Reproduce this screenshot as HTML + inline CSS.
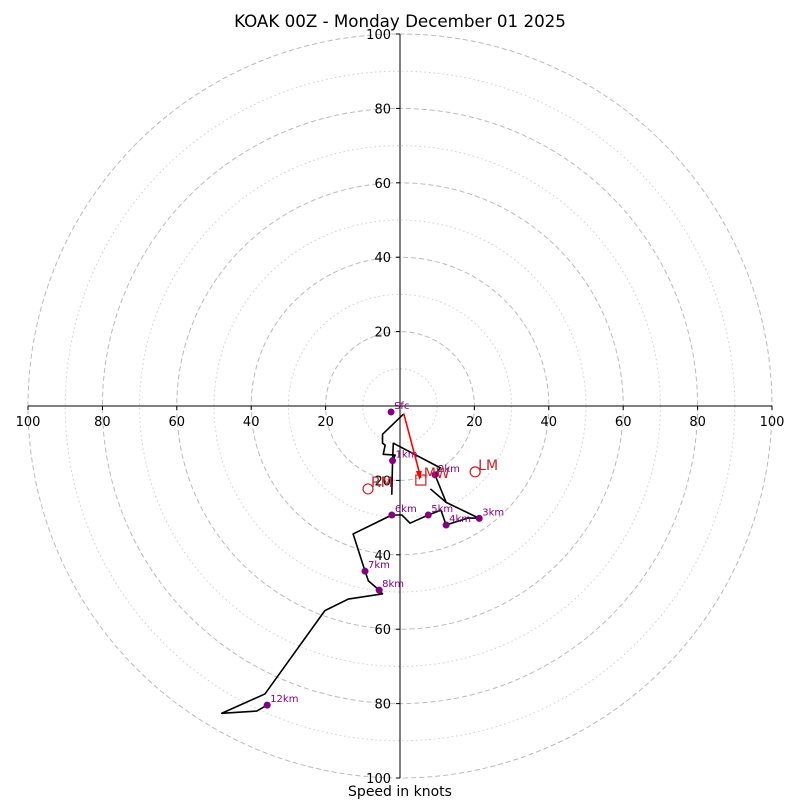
<!DOCTYPE html>
<html><head><meta charset="utf-8"><style>
body{margin:0;background:#fff}
svg text{font-family:"DejaVu Sans","Liberation Sans",sans-serif}
</style></head><body>
<svg id="c" width="800" height="800" xmlns="http://www.w3.org/2000/svg">
<text x="400" y="27" text-anchor="middle" font-size="16.7">KOAK 00Z - Monday December 01 2025</text>
<text x="400" y="796" text-anchor="middle" font-size="14">Speed in knots</text>
</svg>
<script>
const pathU=[0.9,-4.7,-4.7,-4.0,-4.5,-1.3,-2.0,-2.2,-2.0,-1.8,10.8,9.4,12.4,8.3,12.4,21.3,18.3,12.4,11.0,7.6,2.7,0.5,-2.2,-12.6,-9.4,-8.5,-5.6,-4.7,-13.9,-20.2,-36.3,-47.9,-38.5,-35.7];
const pathV=[-2.2,-7.6,-10.0,-10.5,-13.0,-13.2,-14.7,-23.7,-14.7,-10.0,-16.6,-18.5,-25.9,-22.4,-25.9,-30.2,-30.1,-32.0,-28.0,-29.3,-31.5,-29.3,-29.3,-34.4,-44.4,-47.0,-49.5,-50.5,-51.9,-55.0,-77.4,-82.6,-82.0,-80.4];
const hLabels=["Sfc","1km","2km","3km","4km","5km","6km","7km","8km","12km"];
const hU=[-2.4,-2.0,9.4,21.3,12.4,7.6,-2.2,-9.4,-5.6,-35.7];
const hV=[-1.6,-14.7,-18.5,-30.2,-32.0,-29.3,-29.3,-44.4,-49.5,-80.4];
const ticks=[20,40,60,80,100];
const rmU=-8.6,rmV=-22.3,lmU=20.2,lmV=-17.7,mwU=5.6,mwV=-19.9;
const cx=400,cy=406,k=3.72;
const X=u=>cx+u*k, Y=v=>cy-v*k;
const svg=document.getElementById('c');
const NS='http://www.w3.org/2000/svg';
function mk(t,a,p){const e=document.createElementNS(NS,t);for(const n in a)e.setAttribute(n,a[n]);(p||svg).appendChild(e);return e;}
for(let r=10;r<=100;r+=10){
 const c=mk('circle',{cx:cx,cy:cy,r:r*k,fill:'none',stroke:r%20?'#d0d0d0':'#bbb','stroke-width':1,'stroke-dasharray':r%20?'1.5,3':'5,3'});
 
 
}
const ax=mk('line',{x1:X(-100),y1:cy,x2:X(100),y2:cy,stroke:'#000','stroke-width':1});


const ay=mk('line',{x1:cx,y1:Y(100),x2:cx,y2:Y(-100),stroke:'#000','stroke-width':1});


ticks.forEach(t=>{
 [t,-t].forEach(s=>{
  mk('line',{x1:X(s),y1:cy,x2:X(s),y2:cy+4,stroke:'#000'});
  const tx=mk('text',{x:X(s),y:cy+20,'text-anchor':'middle','font-size':13});
  tx.textContent=t;
  
  
  mk('line',{x1:cx-4,y1:Y(s),x2:cx,y2:Y(s),stroke:'#000'});
  const ty=mk('text',{x:cx-9,y:Y(s)+5,'text-anchor':'end','font-size':13});
  ty.textContent=t;
  
  
 });
});
const pts=pathU.map((u,i)=>X(u)+','+Y(pathV[i])).join(' ');
const pl=mk('polyline',{points:pts,fill:'none',stroke:'#000','stroke-width':1.6,'stroke-linejoin':'round'});


hLabels.forEach((l,i)=>{
 const d=mk('circle',{cx:X(hU[i]),cy:Y(hV[i]),r:3.5,fill:'purple'});
 
 
 const t=mk('text',{x:X(hU[i])+3,y:Y(hV[i])-3,'font-size':10,fill:'purple'});
 t.textContent=l;
 
 
});
const sv=mk('line',{x1:X(1),y1:Y(-2),x2:X(mwU),y2:Y(mwV)-2,stroke:'red','stroke-width':1.6});


mk('polygon',{points:`${X(mwU)-1},${Y(mwV)} ${X(mwU)-5},${Y(mwV)-9} ${X(mwU)+1},${Y(mwV)-9}`,fill:'red'});
const rm=mk('circle',{cx:X(rmU),cy:Y(rmV),r:5,fill:'none',stroke:'#c8202a','stroke-width':1.2});


const lm=mk('circle',{cx:X(lmU),cy:Y(lmV),r:5,fill:'none',stroke:'#c8202a','stroke-width':1.2});


const mw=mk('rect',{x:X(mwU)-5,y:Y(mwV)-5,width:10,height:10,fill:'none',stroke:'#c8202a','stroke-width':1.2});


[['RM',rmU,rmV],['LM',lmU,lmV],['MW',mwU,mwV]].forEach(a=>{
 const t=mk('text',{x:X(a[1])+3,y:Y(a[2])-2,'font-size':14,fill:'#c8202a'});
 t.textContent=a[0];
 
 
});
</script>
</body></html>
